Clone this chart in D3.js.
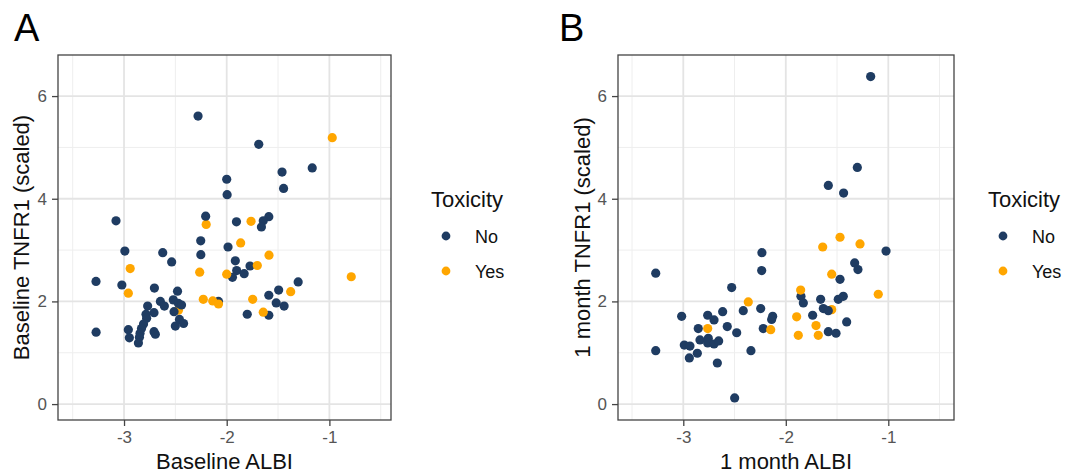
<!DOCTYPE html>
<html>
<head>
<meta charset="utf-8">
<script src="https://cdn.jsdelivr.net/npm/d3@7"></script>
<style>
  body { margin: 0; background: #fff; }
  svg text { font-family: "Liberation Sans", Arial, sans-serif; }
</style>
</head>
<body>
<svg id="chart"></svg>
<script>
// data: [ALBI, TNFR1, toxicity], in drawing order
const toxicityLevels = ["No", "Yes"];
const xTickValues = [-3, -2, -1];
const yTickValues = [0, 2, 4, 6];

const baselinePoints = [
    [-2.47, 1.83, "Yes"], [-2.20, 3.50, "Yes"],
    [-2.279, 5.61, "No"], [-1.688, 5.06, "No"], [-1.167, 4.60, "No"], [-1.461, 4.52, "No"],
    [-1.446, 4.20, "No"], [-2.00, 4.38, "No"], [-1.996, 4.08, "No"], [-3.078, 3.57, "No"],
    [-2.205, 3.66, "No"], [-1.59, 3.65, "No"], [-1.644, 3.57, "No"], [-1.662, 3.45, "No"],
    [-1.905, 3.55, "No"], [-2.253, 3.18, "No"], [-1.987, 3.06, "No"], [-2.992, 2.98, "No"],
    [-2.623, 2.95, "No"], [-2.536, 2.77, "No"], [-2.252, 2.91, "No"], [-1.916, 2.79, "No"],
    [-1.903, 2.60, "No"], [-1.944, 2.47, "No"], [-1.83, 2.54, "No"], [-1.773, 2.69, "No"],
    [-3.273, 2.39, "No"], [-3.021, 2.32, "No"], [-2.704, 2.26, "No"], [-1.304, 2.38, "No"],
    [-1.494, 2.22, "No"], [-1.59, 2.12, "No"], [-1.518, 1.97, "No"], [-1.441, 1.91, "No"],
    [-1.80, 1.75, "No"], [-1.59, 1.73, "No"], [-2.479, 2.20, "No"], [-2.646, 2.00, "No"],
    [-2.607, 1.91, "No"], [-2.52, 2.03, "No"], [-2.47, 1.96, "No"], [-2.44, 1.93, "No"],
    [-2.513, 1.80, "No"], [-2.08, 2.00, "No"], [-2.77, 1.91, "No"], [-2.708, 1.78, "No"],
    [-2.786, 1.75, "No"], [-2.78, 1.67, "No"], [-2.81, 1.56, "No"], [-2.83, 1.47, "No"],
    [-2.844, 1.38, "No"], [-2.85, 1.30, "No"], [-2.86, 1.19, "No"], [-2.958, 1.45, "No"],
    [-2.948, 1.29, "No"], [-2.708, 1.41, "No"], [-2.695, 1.36, "No"], [-3.272, 1.40, "No"],
    [-2.50, 1.52, "No"], [-2.46, 1.65, "No"], [-2.42, 1.57, "No"],
    [-0.972, 5.19, "Yes"], [-1.763, 3.56, "Yes"], [-1.864, 3.14, "Yes"], [-1.588, 2.90, "Yes"],
    [-1.702, 2.70, "Yes"], [-2.263, 2.57, "Yes"], [-2.00, 2.53, "Yes"], [-0.787, 2.48, "Yes"],
    [-1.377, 2.19, "Yes"], [-1.747, 2.04, "Yes"], [-1.644, 1.79, "Yes"], [-2.228, 2.04, "Yes"],
    [-2.136, 2.01, "Yes"], [-2.08, 1.95, "Yes"], [-2.94, 2.64, "Yes"], [-2.958, 2.16, "Yes"]
];

const monthPoints = [
    [-1.552, 1.84, "Yes"],
    [-1.172, 6.38, "No"], [-1.302, 4.61, "No"], [-1.585, 4.26, "No"], [-1.436, 4.11, "No"],
    [-1.022, 2.98, "No"], [-1.328, 2.75, "No"], [-1.296, 2.62, "No"], [-1.471, 2.43, "No"],
    [-1.852, 2.10, "No"], [-1.829, 1.97, "No"], [-1.66, 2.04, "No"], [-1.488, 2.04, "No"],
    [-1.439, 2.10, "No"], [-1.634, 1.86, "No"], [-1.585, 1.82, "No"], [-1.738, 1.73, "No"],
    [-1.406, 1.60, "No"], [-1.585, 1.41, "No"], [-1.51, 1.38, "No"], [-2.233, 2.95, "No"],
    [-2.235, 2.60, "No"], [-2.528, 2.27, "No"], [-2.415, 1.82, "No"], [-2.245, 1.86, "No"],
    [-2.128, 1.71, "No"], [-2.138, 1.65, "No"], [-2.22, 1.47, "No"], [-2.616, 1.80, "No"],
    [-2.571, 1.51, "No"], [-2.479, 1.39, "No"], [-2.34, 1.04, "No"], [-2.499, 0.12, "No"],
    [-3.016, 1.71, "No"], [-3.269, 2.55, "No"], [-3.269, 1.04, "No"], [-2.762, 1.73, "No"],
    [-2.70, 1.64, "No"], [-2.854, 1.47, "No"], [-2.837, 1.25, "No"], [-2.756, 1.28, "No"],
    [-2.762, 1.19, "No"], [-2.70, 1.17, "No"], [-2.655, 1.23, "No"], [-2.99, 1.15, "No"],
    [-2.935, 1.13, "No"], [-2.941, 0.90, "No"], [-2.863, 0.99, "No"], [-2.668, 0.80, "No"],
    [-1.471, 3.25, "Yes"], [-1.64, 3.06, "Yes"], [-1.276, 3.12, "Yes"], [-1.552, 2.53, "Yes"],
    [-1.098, 2.14, "Yes"], [-1.855, 2.22, "Yes"], [-1.894, 1.70, "Yes"], [-1.705, 1.53, "Yes"],
    [-1.878, 1.34, "Yes"], [-1.683, 1.34, "Yes"], [-2.366, 1.99, "Yes"], [-2.147, 1.45, "Yes"],
    [-2.762, 1.47, "Yes"]
];

const colour = d3.scaleOrdinal().domain(toxicityLevels).range(["#1f3c62", "#ffa600"]);

const svg = d3.select("#chart").attr("width", 1067).attr("height", 474);

function drawPanel(cfg, points) {
    let g = svg.append("g");

    let xScale = d3.scaleLinear().domain(cfg.xDomain).range([cfg.left, cfg.right]);
    let yScale = d3.scaleLinear().domain([-0.31, 6.8]).range([cfg.bottom, cfg.top]);

    // minor grid (between major ticks)
    let xMinor = [-3.5, -2.5, -1.5, -0.5];
    let yMinor = [1, 3, 5];
    g.append("g").selectAll("line").data(xMinor).enter().append("line")
        .attr("x1", d => xScale(d)).attr("x2", d => xScale(d))
        .attr("y1", cfg.top).attr("y2", cfg.bottom)
        .attr("stroke", "#eeeeee").attr("stroke-width", 1);
    g.append("g").selectAll("line").data(yMinor).enter().append("line")
        .attr("y1", d => yScale(d)).attr("y2", d => yScale(d))
        .attr("x1", cfg.left).attr("x2", cfg.right)
        .attr("stroke", "#eeeeee").attr("stroke-width", 1);

    // major grid
    g.append("g").selectAll("line").data(xTickValues).enter().append("line")
        .attr("x1", d => xScale(d)).attr("x2", d => xScale(d))
        .attr("y1", cfg.top).attr("y2", cfg.bottom)
        .attr("stroke", "#e4e4e4").attr("stroke-width", 1.8);
    g.append("g").selectAll("line").data(yTickValues).enter().append("line")
        .attr("y1", d => yScale(d)).attr("y2", d => yScale(d))
        .attr("x1", cfg.left).attr("x2", cfg.right)
        .attr("stroke", "#e4e4e4").attr("stroke-width", 1.8);

    // points
    g.append("g").selectAll("circle").data(points).enter().append("circle")
        .attr("cx", d => xScale(d[0]))
        .attr("cy", d => yScale(d[1]))
        .attr("r", 4.6)
        .attr("fill", d => colour(d[2]));

    // panel border
    g.append("rect")
        .attr("x", cfg.left).attr("y", cfg.top)
        .attr("width", cfg.right - cfg.left).attr("height", cfg.bottom - cfg.top)
        .attr("fill", "none").attr("stroke", "#444").attr("stroke-width", 1.3);

    // axes
    let axisX = d3.axisBottom(xScale).tickValues(xTickValues).tickSize(6).tickPadding(5)
        .tickFormat(d => d.toString());
    let axisY = d3.axisLeft(yScale).tickValues(yTickValues).tickSize(6).tickPadding(5);

    let ax = g.append("g").attr("transform", `translate(0,${cfg.bottom})`).call(axisX);
    let ay = g.append("g").attr("transform", `translate(${cfg.left},0)`).call(axisY);
    [ax, ay].forEach(a => {
        a.select(".domain").remove();
        a.selectAll(".tick line").attr("stroke", "#444").attr("stroke-width", 1.3);
        a.selectAll(".tick text").attr("fill", "#555").attr("font-size", "17px")
            .style("font-family", "'Liberation Sans', Arial, sans-serif");
    });

    // titles
    g.append("text")
        .attr("x", (cfg.left + cfg.right) / 2).attr("y", 468.5)
        .attr("text-anchor", "middle").attr("font-size", "22px").attr("fill", "#111")
        .text(cfg.xlabel);
    g.append("text")
        .attr("transform", `translate(${cfg.ylabelX}, ${(cfg.top + cfg.bottom) / 2}) rotate(-90)`)
        .attr("text-anchor", "middle").attr("font-size", "22px").attr("fill", "#111")
        .text(cfg.ylabel);
    g.append("text")
        .attr("x", cfg.letterX).attr("y", 41)
        .attr("font-size", "38px").attr("fill", "#000")
        .text(cfg.letter);

    // legend
    let lg = g.append("g").attr("transform", `translate(${cfg.legendX}, 0)`);
    lg.append("text").attr("x", 0).attr("y", 206.5)
        .attr("font-size", "22px").attr("fill", "#111").text("Toxicity");
    let item = lg.selectAll("g.item").data(toxicityLevels).enter().append("g").attr("class", "item");
    item.append("circle")
        .attr("cx", 15).attr("cy", (d, i) => 236 + i * 35)
        .attr("r", 4.4).attr("fill", d => colour(d));
    item.append("text")
        .attr("x", 44).attr("y", (d, i) => 242.5 + i * 35)
        .attr("font-size", "18px").attr("fill", "#111").text(d => d);
}

drawPanel({
    left: 58, right: 391, top: 55, bottom: 420,
    xDomain: [-3.643, -0.40],
    xlabel: "Baseline ALBI", ylabel: "Baseline TNFR1 (scaled)",
    ylabelX: 29, letter: "A", letterX: 14, legendX: 431
}, baselinePoints);

drawPanel({
    left: 618, right: 954, top: 55, bottom: 420,
    xDomain: [-3.637, -0.359],
    xlabel: "1 month ALBI", ylabel: "1 month TNFR1 (scaled)",
    ylabelX: 590, letter: "B", letterX: 559, legendX: 988
}, monthPoints);
</script>
</body>
</html>
